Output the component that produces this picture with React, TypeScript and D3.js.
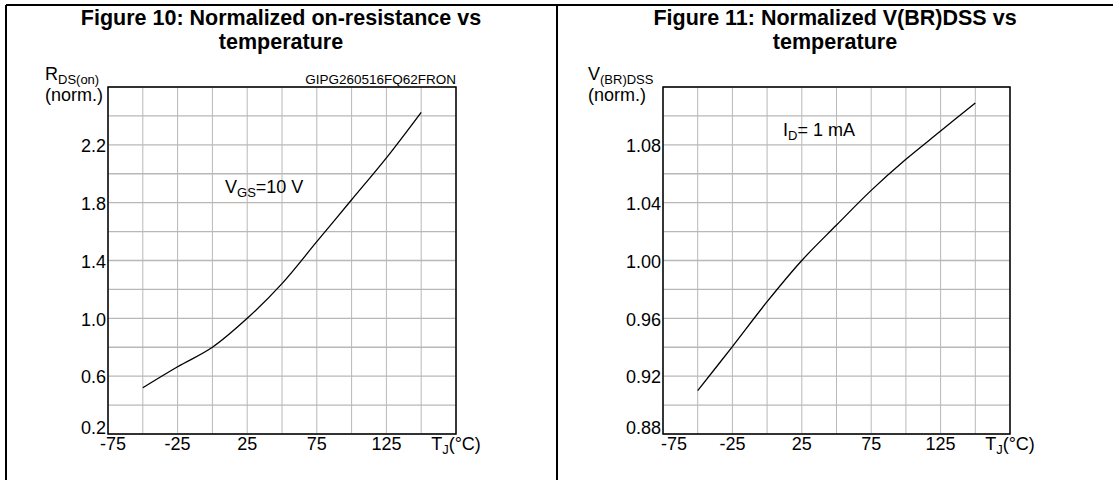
import * as d3 from 'd3';

// junction temperature samples (°C)
const tempC = [-50, -25, 0, 25, 50, 75, 100, 125, 150];

// Figure 10: normalized RDS(on)
const rdsOn = [0.52, 0.665, 0.8, 1.0, 1.24, 1.53, 1.82, 2.11, 2.425];
const rdsDomain = [0.2, 2.6];
const rdsTickLabels = ['0.2', '0.6', '1.0', '1.4', '1.8', '2.2'];

// Figure 11: normalized V(BR)DSS
const vbrDss = [0.91, 0.9405, 0.9715, 1.0, 1.0245, 1.0485, 1.07, 1.0895, 1.109];
const vbrDomain = [0.88, 1.12];
const vbrTickLabels = ['0.88', '0.92', '0.96', '1.00', '1.04', '1.08'];

const xDomain = [-75, 175];
const xTickLabels = ['-75', '-25', '25', '75', '125'];

const FONT = "Arial, 'Liberation Sans', Helvetica, sans-serif";
const GRID = '#b8b8b8';

interface PanelProps {
  cx: number;
  x0: number;
  x1: number;
  values: number[];
  yDomain: number[];
  yTicks: string[];
  title: string[];
  yMain: string;
  ySub: string;
  labelX: number;
  firstTickShift: number;
  note: { x: number; y: number; main: string; sub: string; rest: string };
  code?: string;
}

function Panel({ cx, x0, x1, values, yDomain, yTicks, title, yMain, ySub, labelX, firstTickShift, note, code }: PanelProps) {
  const top = 87;
  const bottom = 434;
  const x = d3.scaleLinear().domain(xDomain).range([x0, x1]);
  const y = d3.scaleLinear().domain(yDomain).range([bottom, top]);
  const xGrid = d3.range(xDomain[0], xDomain[1] + 1, 25);
  const yStep = (yDomain[1] - yDomain[0]) / 12;
  const yGrid = d3.range(0, 13).map(i => yDomain[0] + i * yStep);

  const line = d3.line<number>()
    .x((_, i) => x(tempC[i]))
    .y(d => y(d))
    .curve(d3.curveCatmullRom.alpha(0.5));

  return (
    <g fontFamily={FONT}>
      {title.map((t, i) => (
        <text key={t} x={cx} y={25 + i * 24} textAnchor="middle" fontWeight="bold" fontSize={21.5}>{t}</text>
      ))}
      <text x={labelX} y={80} fontSize={18}>
        {yMain}
        <tspan dy={4} fontSize={13}>{ySub}</tspan>
      </text>
      <text x={labelX} y={101} fontSize={18}>(norm.)</text>
      {code && (
        <text x={x1} y={84} fontSize={13.5} textAnchor="end">{code}</text>
      )}
      {xGrid.map(v => (
        <line key={'x' + v} x1={x(v)} x2={x(v)} y1={top} y2={bottom} stroke={GRID} strokeWidth={1} />
      ))}
      {yGrid.map(v => (
        <line key={'y' + v} x1={x0} x2={x1} y1={y(v)} y2={y(v)} stroke={GRID} strokeWidth={1.3} />
      ))}
      <rect x={x0} y={top} width={x1 - x0} height={bottom - top} fill="none" stroke="#000" strokeWidth={1.5} />
      {yTicks.map((t, i) => (
        <text key={t} x={x0 - 2} y={i === 0 ? bottom : y(+t)} dy={i === 0 ? 0 : '0.4em'} textAnchor="end" fontSize={18}>{t}</text>
      ))}
      {xTickLabels.map((t, i) => (
        <text key={t} x={x(+t) + (i === 0 ? firstTickShift : 0)} y={450} textAnchor="middle" fontSize={18}>{t}</text>
      ))}
      <text x={x(xDomain[1])} y={450} textAnchor="middle" fontSize={18}>
        T<tspan dy={4} fontSize={13}>J</tspan><tspan dy={-4}>(°C)</tspan>
      </text>
      <path d={line(values) ?? ''} fill="none" stroke="#000" strokeWidth={1.3} />
      <text x={note.x} y={note.y} fontSize={18}>
        {note.main}<tspan dy={4} fontSize={13}>{note.sub}</tspan><tspan dy={-4}>{note.rest}</tspan>
      </text>
    </g>
  );
}

export default function App() {
  return (
    <svg width={1113} height={480} style={{ position: 'absolute', left: 0, top: 0, background: '#fff' }}>
      <rect x={0} y={0} width={1113} height={480} fill="#fff" />
      <line x1={6} x2={1113} y1={5} y2={5} stroke="#000" strokeWidth={2} />
      <line x1={6} x2={6} y1={5} y2={480} stroke="#000" strokeWidth={2} />
      <line x1={557} x2={557} y1={5} y2={480} stroke="#000" strokeWidth={2} />
      <Panel
        cx={281}
        x0={108}
        x1={456}
        values={rdsOn}
        yDomain={rdsDomain}
        yTicks={rdsTickLabels}
        title={['Figure 10: Normalized on-resistance vs', 'temperature']}
        yMain="R"
        ySub="DS(on)"
        labelX={45}
        firstTickShift={5}
        note={{ x: 225, y: 193, main: 'V', sub: 'GS', rest: '=10 V' }}
        code="GIPG260516FQ62FRON"
      />
      <Panel
        cx={835}
        x0={663}
        x1={1010}
        values={vbrDss}
        yDomain={vbrDomain}
        yTicks={vbrTickLabels}
        title={['Figure 11: Normalized V(BR)DSS vs', 'temperature']}
        yMain="V"
        ySub="(BR)DSS"
        labelX={588}
        firstTickShift={11}
        note={{ x: 783, y: 136, main: 'I', sub: 'D', rest: '= 1 mA' }}
      />
    </svg>
  );
}
